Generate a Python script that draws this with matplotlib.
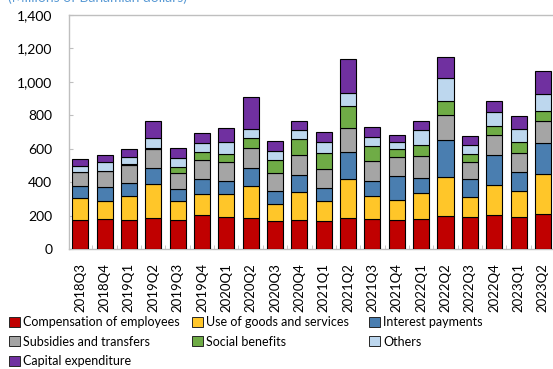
import numpy as np
import matplotlib.pyplot as plt
from matplotlib.patches import Patch

plt.rcParams['font.family'] = ['Lato', 'DejaVu Sans']

# quarterly government expenditure by component (millions of Bahamian dollars)
quarters = ['2018Q3', '2018Q4', '2019Q1', '2019Q2', '2019Q3', '2019Q4', '2020Q1',
            '2020Q2', '2020Q3', '2020Q4', '2021Q1', '2021Q2', '2021Q3', '2021Q4',
            '2022Q1', '2022Q2', '2022Q3', '2022Q4', '2023Q1', '2023Q2']
compensation = [175, 179, 173, 185, 177, 203, 191, 185, 169, 173,
                171, 187, 181, 175, 181, 197, 191, 205, 193, 209]
goods_services = [133, 107, 145, 203, 109, 129, 137, 195, 102, 167,
                  115, 233, 135, 117, 155, 237, 123, 177, 157, 243]
interest = [72, 84, 78, 95, 74, 86, 78, 103, 79, 104,
            82, 159, 92, 148, 92, 218, 104, 179, 111, 181]
subsidies = [79, 95, 109, 117, 93, 115, 115, 120, 103, 119,
             111, 145, 121, 109, 131, 148, 101, 119, 114, 133]
social = [5, 3, 4, 3, 38, 46, 46, 63, 80, 93,
          96, 133, 88, 48, 62, 85, 52, 56, 63, 58]
others = [35, 51, 42, 63, 54, 54, 71, 50, 52, 58,
          67, 74, 53, 45, 91, 135, 50, 82, 78, 101]
capital = [38, 42, 50, 98, 58, 63, 86, 191, 61, 50,
           60, 207, 62, 40, 56, 126, 55, 65, 78, 139]

series = [
    ('Compensation of employees', compensation, '#c00000'),
    ('Use of goods and services', goods_services, '#ffc629'),
    ('Interest payments', interest, '#4a7eb0'),
    ('Subsidies and transfers', subsidies, '#a5a5a5'),
    ('Social benefits', social, '#6fac46'),
    ('Others', others, '#bdd7ee'),
    ('Capital expenditure', capital, '#7030a0'),
]

fig = plt.figure(figsize=(5.53, 3.69), dpi=100)
ax = fig.add_axes([69 / 553, 1 - 249.3 / 369, 1 - 69 / 553 + 0.002, (249.3 - 14.7) / 369])

x = np.arange(len(quarters))
bottom = np.zeros(len(quarters))
handles = []
for name, vals, color in series:
    vals = np.array(vals, dtype=float)
    ax.bar(x, vals, bottom=bottom, width=0.66, color=color,
           edgecolor='black', linewidth=0.8, zorder=3)
    bottom += vals
    handles.append(Patch(facecolor=color, edgecolor='#262626', linewidth=0.7, label=name))

ax.set_xlim(-0.46, len(quarters) - 0.54)
ax.set_ylim(0, 1400)
ax.set_yticks(np.arange(0, 1401, 200))
ax.set_yticklabels([f'{v:,}' for v in range(0, 1401, 200)])
ax.set_xticks(x)
ax.set_xticklabels(quarters, rotation=90)
ax.set_xticks(x[:-1] + 0.5, minor=True)

for side in ['top', 'left', 'bottom', 'right']:
    ax.spines[side].set_color('#bfbfbf')
    ax.spines[side].set_linewidth(1.0)

ax.tick_params(axis='y', direction='in', length=3, color='#bfbfbf', pad=12,
               labelsize=10, labelcolor='black')
ax.tick_params(axis='x', which='major', length=0, pad=10, labelsize=9.5, labelcolor='black')
ax.tick_params(axis='x', which='minor', direction='in', length=3, color='#bfbfbf')

fig.text(8 / 553, 1 - 2 / 369, '(Millions of Bahamian dollars)', color='#5b9bd5',
         fontsize=10, va='baseline', ha='left')

# legend laid out as three fixed columns
col_x = [9 / 553, 192 / 553, 369 / 553]
col_items = [[0, 3, 6], [1, 4], [2, 5]]
for cx, idx in zip(col_x, col_items):
    fig.legend(handles=[handles[i] for i in idx], loc='upper left',
               bbox_to_anchor=(cx, 1 - 316 / 369), frameon=False, fontsize=9,
               borderpad=0, borderaxespad=0, handlelength=0.85, handleheight=0.85,
               handletextpad=0.3, labelspacing=0.6)

fig.savefig('out.png', dpi=100)
